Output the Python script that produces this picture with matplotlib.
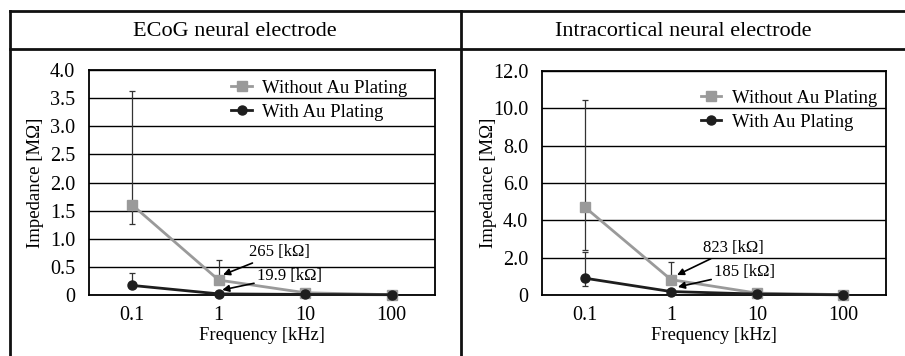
import matplotlib
matplotlib.use('Agg')
import matplotlib.pyplot as plt
from matplotlib.lines import Line2D

plt.rcParams['font.family'] = ['Liberation Serif', 'DejaVu Serif']

# Datos
freq_labels = ['0.1', '1', '10', '100']

ecog_without = [1.6, 0.265, 0.04, 0.005]
ecog_without_lo = [0.33, 0.0, 0.0, 0.0]
ecog_without_hi = [2.03, 0.355, 0.0, 0.0]
ecog_with = [0.17, 0.0199, 0.01, 0.005]
ecog_with_lo = [0.0, 0.0, 0.0, 0.0]
ecog_with_hi = [0.23, 0.0, 0.0, 0.0]
ecog_yticks = [0, 0.5, 1.0, 1.5, 2.0, 2.5, 3.0, 3.5, 4.0]
ecog_yticklabels = ['0', '0.5', '1.0', '1.5', '2.0', '2.5', '3.0', '3.5', '4.0']

intra_without = [4.7, 0.823, 0.1, 0.02]
intra_without_lo = [2.3, 0.0, 0.0, 0.0]
intra_without_hi = [5.75, 0.93, 0.0, 0.0]
intra_with = [0.9, 0.185, 0.05, 0.01]
intra_with_lo = [0.4, 0.0, 0.0, 0.0]
intra_with_hi = [1.4, 0.0, 0.0, 0.0]
intra_yticks = [0, 2, 4, 6, 8, 10, 12]
intra_yticklabels = ['0', '2.0', '4.0', '6.0', '8.0', '10.0', '12.0']

W, H = 905, 356
fig = plt.figure(figsize=(W / 100, H / 100), dpi=100)

def px_axes(x0, y0, x1, y1):
    return fig.add_axes([x0 / W, 1 - y1 / H, (x1 - x0) / W, (y1 - y0) / H])

GRAY = '#9a9a9a'
BLACK = '#1e1e1e'

def draw_panel(ax, without, w_lo, w_hi, with_, m_lo, m_hi, yticks, yticklabels, ymax,
               legend_anchor, notes):
    x = list(range(len(freq_labels)))
    ax.set_xlim(-0.5, len(freq_labels) - 0.5)
    ax.set_ylim(0, ymax)
    ax.set_yticks(yticks)
    ax.set_yticklabels(yticklabels)
    ax.set_xticks(x)
    ax.set_xticklabels(freq_labels)
    ax.tick_params(length=0, labelsize=14.5, pad=10)
    ax.tick_params(axis='x', pad=8)
    ax.grid(axis='y', color='black', linewidth=1)
    ax.set_axisbelow(True)
    for s in ax.spines.values():
        s.set_linewidth(1.3)
        s.set_color('black')

    ax.errorbar(x, without, yerr=[w_lo, w_hi], fmt='none', ecolor='#333333',
                elinewidth=0.9, capsize=2.5, capthick=0.9, zorder=3)
    ax.errorbar(x, with_, yerr=[m_lo, m_hi], fmt='none', ecolor='#333333',
                elinewidth=0.9, capsize=2.5, capthick=0.9, zorder=3)
    ax.plot(x, without, color=GRAY, marker='s', markersize=7, linewidth=2,
            label='Without Au Plating', zorder=4, clip_on=False)
    ax.plot(x, with_, color=BLACK, marker='o', markersize=6.5, linewidth=2,
            label='With Au Plating', zorder=5, clip_on=False)

    ax.set_xlabel('Frequency [kHz]', fontsize=13.3, labelpad=1)
    ax.set_ylabel('Impedance [M\u03a9]', fontsize=13.5)
    ax.yaxis.set_label_coords(-0.13, 0.5)

    ax.legend(loc='upper left', bbox_to_anchor=legend_anchor, frameon=False,
              fontsize=13.5, handlelength=1.1, handletextpad=0.55,
              labelspacing=0.35, borderaxespad=0)

    for txt, xy, xytext in notes:
        ax.annotate(txt, xy=xy, xytext=xytext, fontsize=12, ha='left', va='center',
                    arrowprops=dict(arrowstyle='-|>', color='black', lw=1.2,
                                    mutation_scale=10, shrinkA=0, shrinkB=0),
                    zorder=6)

ax1 = px_axes(89, 70, 435, 295)
draw_panel(ax1, ecog_without, ecog_without_lo, ecog_without_hi,
           ecog_with, ecog_with_lo, ecog_with_hi,
           ecog_yticks, ecog_yticklabels, 4.0, (0.39, 0.99),
           [('265 [k\u03a9]', (1.05, 0.36), (1.35, 0.76)),
            ('19.9 [k\u03a9]', (1.04, 0.09), (1.44, 0.34))])

ax2 = px_axes(542, 71, 886, 295)
draw_panel(ax2, intra_without, intra_without_lo, intra_without_hi,
           intra_with, intra_with_lo, intra_with_hi,
           intra_yticks, intra_yticklabels, 12.0, (0.44, 0.95),
           [('823 [k\u03a9]', (1.07, 1.07), (1.37, 2.52)),
            ('185 [k\u03a9]', (1.08, 0.43), (1.5, 1.23))])

# Marco de la tabla
def fig_line(xs, ys):
    fig.add_artist(Line2D([v / W for v in xs], [1 - v / H for v in ys],
                          color='#111111', linewidth=2))

fig_line([10, W], [11, 11])
fig_line([10, W], [49, 49])
fig_line([10, 10], [11, H])
fig_line([461, 461], [11, H])

fig.text(235 / W, 1 - 32 / H, 'ECoG neural electrode', ha='center', va='center', fontsize=16)
fig.text(683 / W, 1 - 32 / H, 'Intracortical neural electrode', ha='center', va='center', fontsize=16)

fig.savefig('out.png', dpi=100)
